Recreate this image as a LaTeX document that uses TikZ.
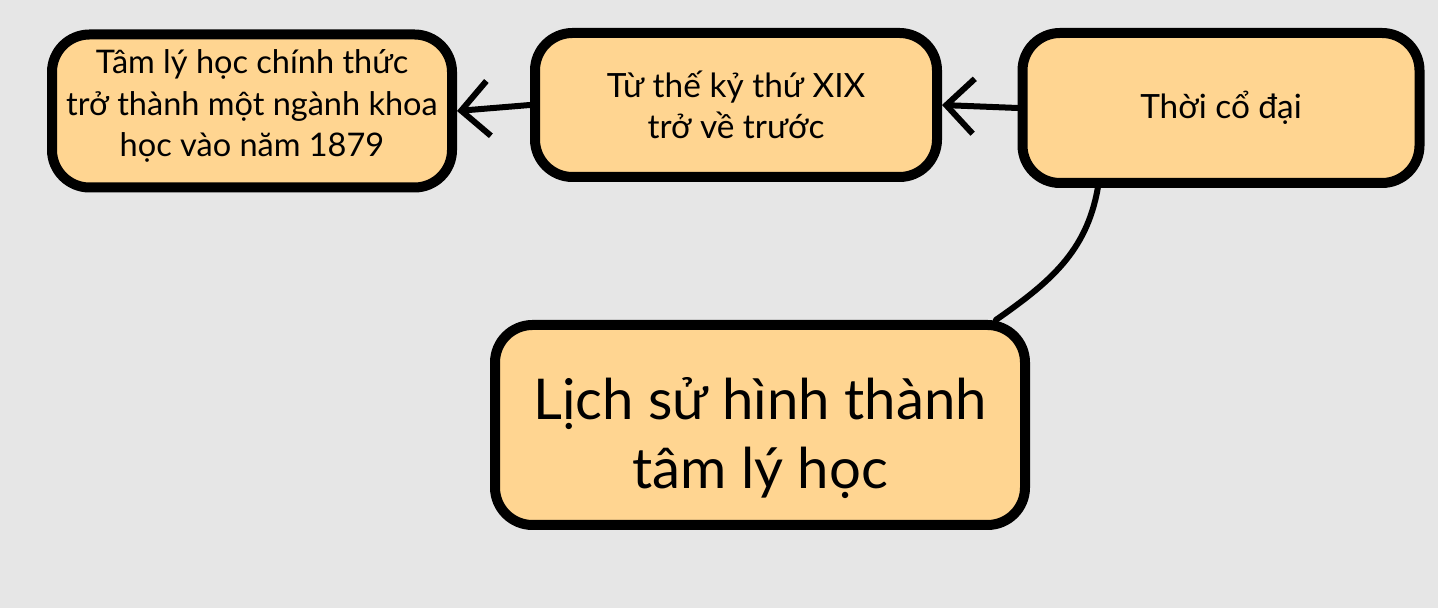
\documentclass[tikz,border=0pt]{standalone}
\usepackage{fontspec}
\setmainfont{Lato}
\usetikzlibrary{arrows.meta}
\usetikzlibrary{positioning}
\definecolor{mgray}{rgb}{0.902, 0.902, 0.902}
\definecolor{mfill}{rgb}{1.0, 0.835, 0.569}
\tikzset{topic/.style = {draw, fill = mfill, line width = 0.2cm, rounded corners = 0.75cm, align = center, inner sep = 0}}
\tikzset{link/.style = {line width = 0.12cm, line cap = round}}
\tikzset{barb/.style = {-{Straight Barb[length = 0.55cm, width = 1.1cm, line width = 0.12cm]}}}

\begin{document}
\begin{tikzpicture}
      \fill [mgray] (0, 0) rectangle (28.76, 12.16);
      \useasboundingbox (0, 0) rectangle (28.76, 12.16);

      \node [topic, minimum width = 8.0cm, minimum height = 3.06cm, font = \fontsize{18.5}{23.5}\selectfont]
        (modern) at (5.04, 9.94) {\raisebox{-1.6pt}[0pt][0pt]{\parbox{7.8cm}{\centering Tâm lý học chính thức\\trở thành một ngành khoa\\học vào năm 1879}}};
      \node [topic, minimum width = 8.04cm, minimum height = 2.88cm, font = \fontsize{19}{23.5}\selectfont]
        (before) at (14.72, 10.06) {Từ thế kỷ thứ XIX\\trở về trước};
      \node [topic, minimum width = 7.94cm, minimum height = 3.0cm, font = \fontsize{19}{23.5}\selectfont]
        (ancient) at (24.42, 10.0) {Thời cổ đại};
      \node [topic, minimum width = 10.6cm, minimum height = 4.0cm, font = \fontsize{32}{39}\selectfont]
        (root) at (15.2, 3.66) {\raisebox{-13.7pt}[0pt][0pt]{\parbox{10.4cm}{\centering Lịch sử hình thành\\tâm lý học}}};

      \draw [link, barb] (before.west) -- (modern.east);
      \draw [link, barb] (ancient.west) -- (before.east);
      \draw [link] (ancient.213) to [out = -100, in = 35] (root.24);
    \end{tikzpicture}
\end{document}
